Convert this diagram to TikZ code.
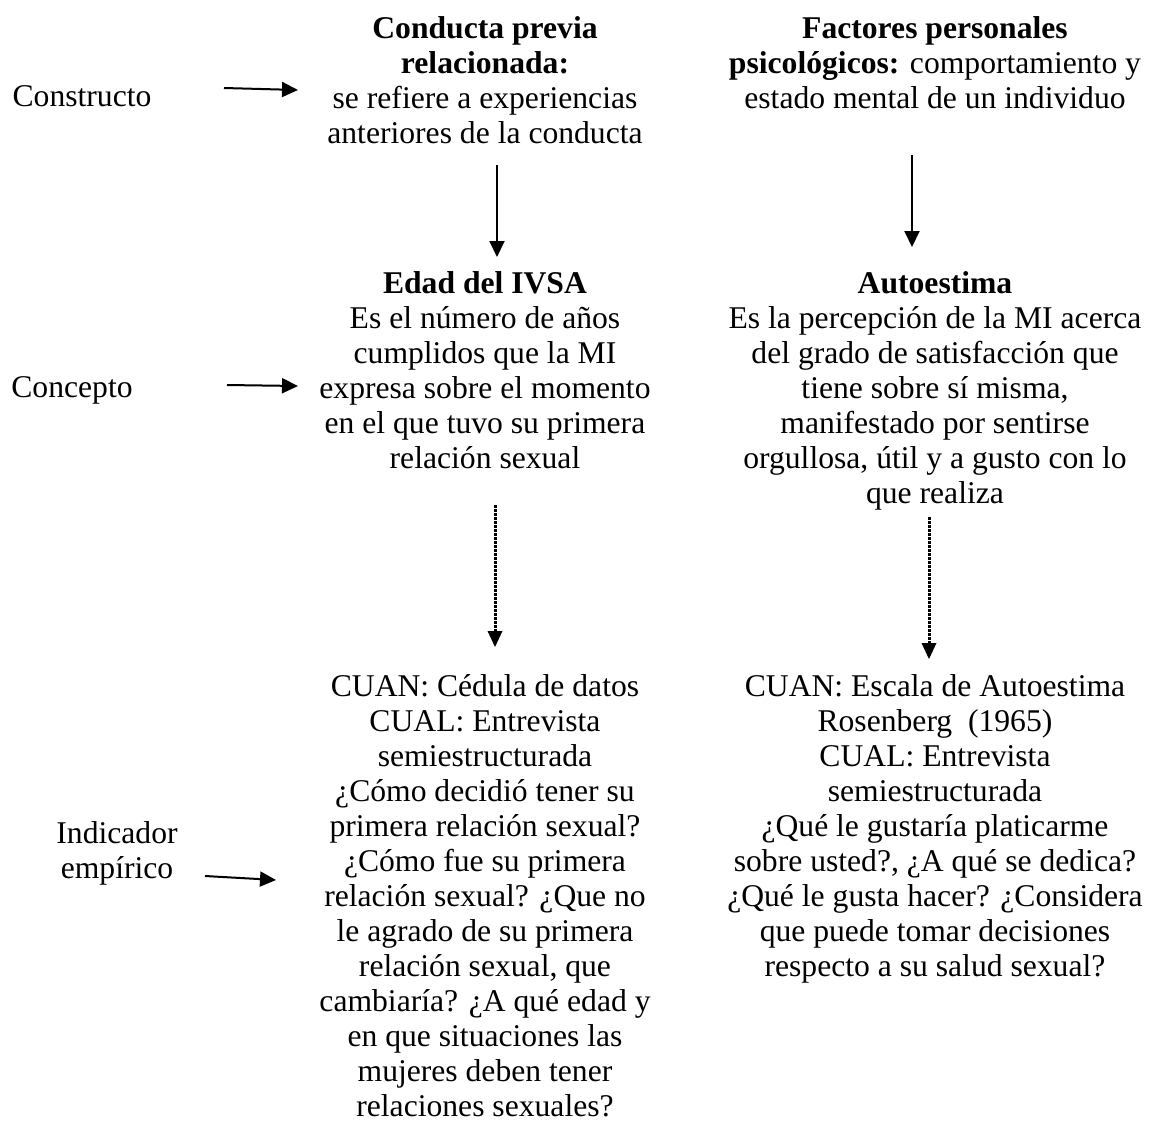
\documentclass[tikz,border=0pt]{standalone}
\usepackage{fontspec}
\setmainfont{Liberation Serif}
\usetikzlibrary{arrows.meta,positioning}

\begin{document}
\begin{tikzpicture}[x=0.2mm,y=-0.2mm,
txt/.style={align=center,inner sep=0pt,font=\fontsize{18}{19.9}\selectfont},
lbl/.style={align=center,inner sep=0pt,font=\fontsize{18}{19.9}\selectfont},
arr/.style={-{Triangle[length=3.2mm,width=3mm]},line width=0.4mm},
dotarr/.style={-{Triangle[length=3.2mm,width=3mm,line width=0pt]},line width=0.6mm,dash pattern=on 0.5mm off 0.3mm}]
\useasboundingbox (0,0) rectangle (1160,1140);
% etiquetas de la izquierda
\node[lbl,anchor=base] (constructo) at (82,106) {Constructo};
\node[lbl,anchor=base] (concepto) at (72,397) {Concepto};
\node[lbl,anchor=base] (indicador) at (117,878) {Indicador\\emp\'irico};
% columna 1
\node[txt,anchor=north] (conducta) at (485,16) {\textbf{Conducta previa}\\\textbf{relacionada:}\\se refiere a experiencias\\anteriores de la conducta};
\node[txt,anchor=north] (edad) at (485,271) {\textbf{Edad del IVSA}\\Es el número de años\\cumplidos que la MI\\expresa sobre el momento\\en el que tuvo su primera\\relación sexual};
\node[txt,anchor=north] (cuan1) at (485,674) {CUAN: Cédula de datos\\CUAL: Entrevista\\semiestructurada\\¿Cómo decidió tener su\\primera relación sexual?\\¿Cómo fue su primera\\relación sexual? ¿Que no\\le agrado de su primera\\relación sexual, que\\cambiaría? ¿A qué edad y\\en que situaciones las\\mujeres deben tener\\relaciones sexuales?};
% columna 2
\node[txt,anchor=north] (factores) at (935,16) {\textbf{Factores personales}\\\textbf{psicológicos:} comportamiento y\\estado mental de un individuo};
\node[txt,anchor=north] (autoestima) at (935,271) {\textbf{Autoestima}\\Es la percepción de la MI acerca\\del grado de satisfacción que\\tiene sobre sí misma,\\manifestado por sentirse\\orgullosa, útil y a gusto con lo\\que realiza};
\node[txt,anchor=north] (cuan2) at (935,674) {CUAN: Escala de Autoestima\\Rosenberg~~(1965)\\CUAL: Entrevista\\semiestructurada\\¿Qué le gustaría platicarme\\sobre usted?, ¿A qué se dedica?\\¿Qué le gusta hacer? ¿Considera\\que puede tomar decisiones\\respecto a su salud sexual?};
% extremos de flechas
\coordinate (h1a) at (224,88);  \coordinate (h1b) at (298,90);
\coordinate (h2a) at (227,385); \coordinate (h2b) at (298,386);
\coordinate (h3a) at (205,876); \coordinate (h3b) at (276,880);
\coordinate (v1a) at (497,165); \coordinate (v1b) at (497,257);
\coordinate (v2a) at (912,155); \coordinate (v2b) at (912,247);
\coordinate (p1a) at (495,505); \coordinate (p1b) at (495,647);
\coordinate (p2a) at (929,517); \coordinate (p2b) at (929,659);
\draw[arr] (h1a)--(h1b);
\draw[arr] (h2a)--(h2b);
\draw[arr] (h3a)--(h3b);
\draw[arr] (v1a)--(v1b);
\draw[arr] (v2a)--(v2b);
\draw[dotarr] (p1a)--(p1b);
\draw[dotarr] (p2a)--(p2b);
\end{tikzpicture}
\end{document}
